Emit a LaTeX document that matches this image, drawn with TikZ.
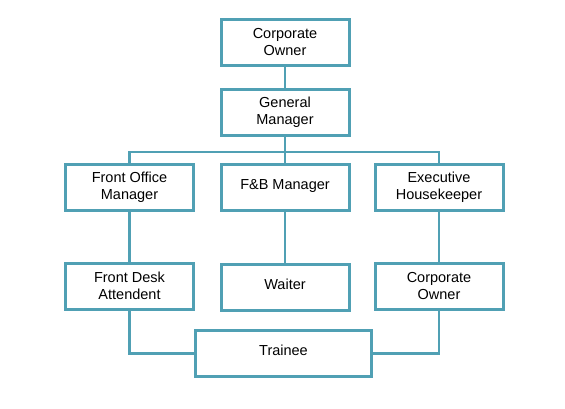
\documentclass[tikz,border=0pt]{standalone}
\usepackage{fontspec}
\setmainfont{Liberation Sans}
\usepackage{tikz}
\usetikzlibrary{positioning,calc}
\definecolor{OrgTeal}{RGB}{80,160,180}
\tikzset{
  post/.style={rectangle,draw=OrgTeal,fill=white,line width=3pt,
    minimum width=128pt,minimum height=46pt,inner sep=2pt,align=center,
    font=\fontsize{14.5}{17}\selectfont},
  single/.style={post,text depth=6pt},
  link/.style={draw=OrgTeal,line width=2.8pt},
}

\begin{document}
\begin{tikzpicture}[x=1pt,y=-1pt]
\useasboundingbox (0,0) rectangle (565,408);
\node[post] (owner) at (285,42.5) {Corporate\\Owner};
\node[post] (gm) at (285,112.5) {General\\Manager};
\node[post] (fom) at (129.5,187.5) {Front Office\\Manager};
\node[single] (fb) at (285,187.5) {F\&B Manager};
\node[post] (exec) at (439,187.5) {Executive\\Housekeeper};
\node[post] (fda) at (129.5,286) {Front Desk\\Attendent};
\node[single] (waiter) at (285,287) {Waiter};
\node[post] (corp) at (439,286) {Corporate\\Owner};
\node[single,minimum width=176pt] (trainee) at (283.5,353.5) {Trainee};
\coordinate (bus) at (285,152);
\draw[link] (owner) -- (gm);
\draw[link] (gm) -- (fb);
\draw[link] (fom.north) |- (bus) -| (exec.north);
\draw[link] (fom) -- (fda);
\draw[link] (fb) -- (waiter);
\draw[link] (exec) -- (corp);
\draw[link] (fda.south) |- (trainee.west);
\draw[link] (corp.south) |- (trainee.east);
\end{tikzpicture}
\end{document}
